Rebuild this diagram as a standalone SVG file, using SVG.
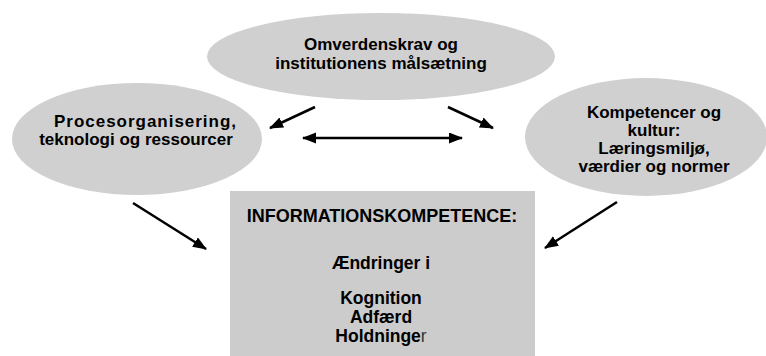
<svg xmlns="http://www.w3.org/2000/svg" width="766" height="356" viewBox="0 0 766 356">
  <style>
    .ell { fill: #d0d0d0; stroke: none; }
    .box { fill: #cccccc; stroke: none; }
    .t { font-family: "Liberation Sans", Arial, sans-serif; font-weight: bold; font-size: 17px; fill: #000; text-anchor: middle; }
    .con { stroke: #000; stroke-width: 2.5; fill: none; }
  </style>
  <defs>
    <marker id="ah" markerUnits="userSpaceOnUse" markerWidth="14" markerHeight="12" refX="13" refY="5.5" orient="auto-start-reverse">
      <path d="M0,0 L14,5.5 L0,11 z" fill="#000"/>
    </marker>
  </defs>
  <rect width="766" height="356" fill="#ffffff"/>

  <g id="node-omverden">
    <ellipse class="ell" cx="381" cy="56.5" rx="174" ry="43.5"/>
    <text class="t" x="381" y="50">Omverdenskrav og</text>
    <text class="t" x="381" y="69">institutionens målsætning</text>
  </g>

  <g id="node-proces">
    <ellipse class="ell" cx="137" cy="139" rx="125" ry="56"/>
    <text class="t" x="145" y="127" textLength="182">Procesorganisering,</text>
    <text class="t" x="136" y="145">teknologi og ressourcer</text>
  </g>

  <g id="node-kompetencer">
    <ellipse class="ell" cx="646" cy="137" rx="121" ry="59"/>
    <text class="t" x="654" y="118">Kompetencer og</text>
    <text class="t" x="654" y="136">kultur:</text>
    <text class="t" x="654" y="154">Læringsmiljø,</text>
    <text class="t" x="654" y="172">værdier og normer</text>
  </g>

  <g id="node-info">
    <rect class="box" x="230" y="191" width="305" height="170"/>
    <text class="t" x="382" y="222" style="font-size:18px">INFORMATIONSKOMPETENCE:</text>
    <text class="t" x="381" y="269" style="font-size:17.5px">Ændringer i</text>
    <text class="t" x="381" y="304" style="font-size:17.5px">Kognition</text>
    <text class="t" x="381" y="323" style="font-size:17.5px">Adfærd</text>
    <text class="t" x="381" y="342" style="font-size:17.5px">Holdninge<tspan style="font-weight:normal;fill:#333">r</tspan></text>
  </g>

  <g id="connectors">
    <line class="con" x1="315" y1="107" x2="270" y2="128" marker-end="url(#ah)"/>
    <line class="con" x1="448" y1="107" x2="493" y2="128" marker-end="url(#ah)"/>
    <line class="con" x1="303" y1="138" x2="462" y2="138" marker-start="url(#ah)" marker-end="url(#ah)"/>
    <line class="con" x1="133" y1="203" x2="206" y2="249" marker-end="url(#ah)"/>
    <line class="con" x1="617" y1="202" x2="545" y2="248" marker-end="url(#ah)"/>
  </g>
</svg>
